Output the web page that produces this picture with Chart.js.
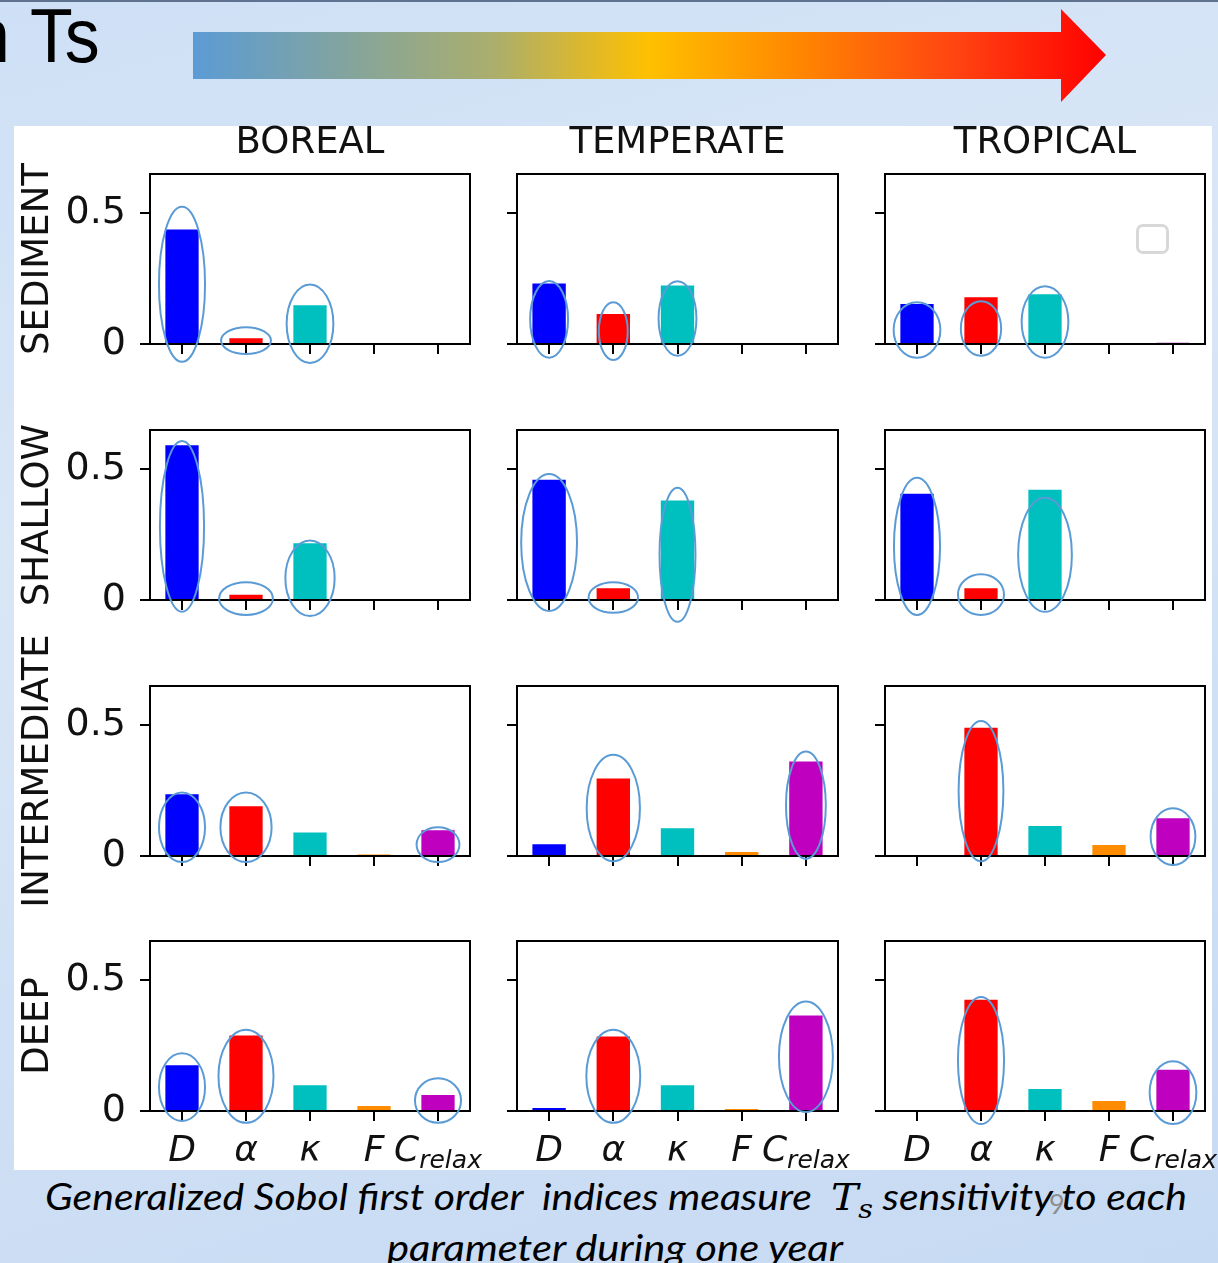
<!DOCTYPE html>
<html>
<head>
<meta charset="utf-8">
<script src="https://cdn.jsdelivr.net/npm/chart.js@4.4.0/dist/chart.umd.min.js"></script>
<style>
  html, body { margin: 0; padding: 0; }
  body {
    width: 1218px; height: 1263px; position: relative; overflow: hidden;
    background: linear-gradient(165deg, #cee0f6 0%, #d9e6f6 35%, #c6daf3 100%);
    font-family: 'DejaVu Sans', sans-serif;
  }
  #topline { position: absolute; left: 0; top: 0; width: 1218px; height: 2px; background: #5f7290; }
  #heading {
    position: absolute; left: -29px; top: -2px; font-family: 'Liberation Sans', sans-serif;
    font-size: 76px; line-height: 76px; color: #000; white-space: nowrap; word-spacing: 2px;
    transform: scaleX(0.92); transform-origin: left top;
  }
  #arrow { position: absolute; left: 0; top: 0; }
  #panel { position: absolute; left: 14px; top: 126px; width: 1198px; height: 1044px; background: #fff; }
  canvas { position: absolute; }
  .coltitle {
    position: absolute; font-size: 37px; line-height: 40px; color: #111;
    text-align: center; white-space: nowrap;
  }
  .rowlabel {
    position: absolute; width: 320px; height: 40px; font-size: 37px; line-height: 40px;
    color: #111; text-align: center; white-space: nowrap; transform: rotate(-90deg);
  }
  #legendbox {
    position: absolute; left: 1136px; top: 224px; width: 27px; height: 24px;
    border: 3px solid #d8d8d8; border-radius: 7px;
  }
  .caption {
    position: absolute; font-family: Lato, 'Open Sans', sans-serif; font-style: italic;
    font-size: 37px; line-height: 44px; color: #000; white-space: nowrap; transform-origin: left top;
  }
  .caption .T { font-family: 'DejaVu Serif', serif; font-style: italic; }
  .caption sub { font-size: 0.7em; vertical-align: -0.3em; line-height: 0; }
  #pagenum {
    position: absolute; left: 1049px; top: 1189px; font-family: Lato, sans-serif;
    font-size: 27px; line-height: 30px; color: #8f8f8f;
  }
</style>
</head>
<body>
<div id="topline"></div>
<div id="heading">n Ts</div>
<svg id="arrow" width="1218" height="120">
  <defs>
    <linearGradient id="heat" gradientUnits="userSpaceOnUse" x1="193" y1="0" x2="1106" y2="0">
      <stop offset="0" stop-color="#5b9bd5"/>
      <stop offset="0.18" stop-color="#86a59a"/>
      <stop offset="0.33" stop-color="#abae6c"/>
      <stop offset="0.5" stop-color="#ffc000"/>
      <stop offset="0.66" stop-color="#ff8800"/>
      <stop offset="0.83" stop-color="#ff4612"/>
      <stop offset="1" stop-color="#ff0000"/>
    </linearGradient>
  </defs>
  <polygon fill="url(#heat)" points="193,32 1061,32 1061,9 1106,55 1061,102 1061,79 193,79"/>
</svg>
<div id="panel"></div>
<div id="legendbox"></div>
<div class="caption" id="cap1">Generalized Sobol first order&nbsp; indices measure&nbsp; <span class="T">T<sub>s</sub></span> sensitivity to each</div>
<div class="caption" id="cap2">parameter during one year</div>
<div id="pagenum">9</div>

<script>
// categories and tick labels
const categories = ['D', 'α', 'κ', 'F', 'C'];
const subscripts = ['', '', '', '', 'relax'];
const climates = ['BOREAL', 'TEMPERATE', 'TROPICAL'];
const depths = ['SEDIMENT', 'SHALLOW', 'INTERMEDIATE', 'DEEP'];
const yTicks = [0, 0.5];
const yMax = 0.648;

// first order Sobol indices, order: D, alpha, kappa, F, C_relax
const sedimentBoreal = [0.436, 0.022, 0.148, 0, 0];
const sedimentTemperate = [0.231, 0.114, 0.223, 0, 0.003];
const sedimentTropical = [0.152, 0.178, 0.19, 0, 0.005];
const shallowBoreal = [0.59, 0.02, 0.216, 0, 0];
const shallowTemperate = [0.458, 0.045, 0.379, 0, 0];
const shallowTropical = [0.405, 0.045, 0.42, 0, 0.003];
const intermediateBoreal = [0.235, 0.19, 0.09, 0.006, 0.098];
const intermediateTemperate = [0.045, 0.295, 0.106, 0.015, 0.36];
const intermediateTropical = [0, 0.489, 0.114, 0.042, 0.144];
const deepBoreal = [0.174, 0.288, 0.098, 0.019, 0.061];
const deepTemperate = [0.011, 0.284, 0.098, 0.008, 0.364];
const deepTropical = [0, 0.424, 0.084, 0.038, 0.157];

// hand drawn rings: [category, low, high, width as share of a category]
const sedimentBorealRings = [[0, -0.068, 0.523, 0.72], [1, -0.038, 0.064, 0.78], [2, -0.072, 0.227, 0.73]];
const sedimentTemperateRings = [[0, -0.052, 0.24, 0.59], [1, -0.061, 0.159, 0.45], [2, -0.045, 0.239, 0.59]];
const sedimentTropicalRings = [[0, -0.052, 0.159, 0.73], [1, -0.045, 0.163, 0.63], [2, -0.052, 0.22, 0.73]];
const shallowBorealRings = [[0, -0.045, 0.606, 0.69], [1, -0.057, 0.068, 0.84], [2, -0.061, 0.227, 0.77]];
const shallowTemperateRings = [[0, -0.042, 0.48, 0.87], [1, -0.049, 0.068, 0.77], [2, -0.083, 0.428, 0.56]];
const shallowTropicalRings = [[0, -0.057, 0.466, 0.72], [1, -0.057, 0.098, 0.72], [2, -0.045, 0.39, 0.84]];
const intermediateBorealRings = [[0, -0.023, 0.242, 0.72], [1, -0.023, 0.242, 0.8], [4, -0.023, 0.11, 0.67]];
const intermediateTemperateRings = [[1, -0.02, 0.386, 0.83], [4, -0.011, 0.398, 0.62]];
const intermediateTropicalRings = [[1, -0.02, 0.515, 0.7], [4, -0.034, 0.182, 0.7]];
const deepBorealRings = [[0, -0.038, 0.22, 0.72], [1, -0.045, 0.31, 0.86], [4, -0.045, 0.125, 0.72]];
const deepTemperateRings = [[1, -0.045, 0.31, 0.84], [4, -0.004, 0.417, 0.84]];
const deepTropicalRings = [[1, -0.05, 0.435, 0.72], [4, -0.05, 0.19, 0.73]];

const values = [
  [sedimentBoreal, sedimentTemperate, sedimentTropical],
  [shallowBoreal, shallowTemperate, shallowTropical],
  [intermediateBoreal, intermediateTemperate, intermediateTropical],
  [deepBoreal, deepTemperate, deepTropical]
];
const rings = [
  [sedimentBorealRings, sedimentTemperateRings, sedimentTropicalRings],
  [shallowBorealRings, shallowTemperateRings, shallowTropicalRings],
  [intermediateBorealRings, intermediateTemperateRings, intermediateTropicalRings],
  [deepBorealRings, deepTemperateRings, deepTropicalRings]
];

const barColors = ['#0000ff', '#ff0000', '#00bfbf', '#ff8c00', '#bf00bf'];

// layout of the 4x3 grid of axes boxes
const colLeft = [150, 517, 885];
const colWidth = [320, 321, 320];
const rowTop = [174, 430, 686, 941];
const boxHeight = 170;
const M = { l: 110, t: 45, r: 20, b: 75 };

const panelPlugin = {
  id: 'panel',
  afterDatasetsDraw(chart) {
    const a = chart.chartArea, ctx = chart.ctx;
    ctx.save();
    ctx.strokeStyle = '#000';
    ctx.lineWidth = 2;
    ctx.strokeRect(a.left, a.top, a.right - a.left, a.bottom - a.top);
    ctx.restore();
  },
  afterDraw(chart, args, opts) {
    const ctx = chart.ctx, xs = chart.scales.x, ys = chart.scales.y;
    const catW = xs.width / categories.length;
    ctx.save();
    ctx.strokeStyle = '#5b9bd5';
    ctx.lineWidth = 2;
    (opts.rings || []).forEach(([cat, lo, hi, w]) => {
      const cx = xs.getPixelForValue(cat);
      const yTop = ys.getPixelForValue(hi), yBot = ys.getPixelForValue(lo);
      ctx.beginPath();
      ctx.ellipse(cx, (yTop + yBot) / 2, catW * w / 2, (yBot - yTop) / 2, 0, 0, Math.PI * 2);
      ctx.stroke();
    });
    if (opts.showX) {
      ctx.fillStyle = '#111';
      ctx.textBaseline = 'alphabetic';
      const base = chart.chartArea.bottom + 50;
      categories.forEach((lab, i) => {
        ctx.font = 'italic 36px "DejaVu Sans"';
        const wMain = ctx.measureText(lab).width;
        ctx.font = 'italic 25px "DejaVu Sans"';
        const wSub = subscripts[i] ? ctx.measureText(subscripts[i]).width : 0;
        const x0 = xs.getPixelForValue(i) - (wMain + wSub) / 2;
        ctx.font = 'italic 36px "DejaVu Sans"';
        ctx.fillText(lab, x0, base);
        if (subscripts[i]) {
          ctx.font = 'italic 25px "DejaVu Sans"';
          ctx.fillText(subscripts[i], x0 + wMain, base + 7);
        }
      });
    }
    ctx.restore();
  }
};

function makePanel(r, c) {
  const canvas = document.createElement('canvas');
  canvas.width = colWidth[c] + M.l + M.r;
  canvas.height = boxHeight + M.t + M.b;
  canvas.style.left = (colLeft[c] - M.l) + 'px';
  canvas.style.top = (rowTop[r] - M.t) + 'px';
  document.body.appendChild(canvas);

  const axisGrid = { offset: false, drawOnChartArea: false, drawTicks: true, tickLength: 10, color: '#000', lineWidth: 2 };
  new Chart(canvas, {
    type: 'bar',
    data: {
      labels: categories,
      datasets: [{
        data: values[r][c],
        backgroundColor: barColors,
        barPercentage: 0.52,
        categoryPercentage: 1
      }]
    },
    options: {
      responsive: false,
      animation: false,
      layout: { padding: { top: M.t, right: M.r, left: 0, bottom: 0 } },
      plugins: {
        legend: { display: false },
        tooltip: { enabled: false },
        panel: { rings: rings[r][c], showX: r === depths.length - 1 }
      },
      scales: {
        x: {
          grid: axisGrid,
          border: { display: true, color: '#000', width: 2 },
          ticks: { display: false },
          afterFit: s => { s.height = M.b; }
        },
        y: {
          min: 0,
          max: yMax,
          afterBuildTicks: s => { s.ticks = yTicks.map(v => ({ value: v })); },
          grid: axisGrid,
          border: { display: true, color: '#000', width: 2 },
          ticks: {
            display: c === 0,
            color: '#111',
            padding: 14,
            font: { family: 'DejaVu Sans', size: 38 },
            callback: v => String(v)
          },
          afterFit: s => { s.width = M.l; }
        }
      }
    },
    plugins: [panelPlugin]
  });
}

for (let r = 0; r < depths.length; r++) {
  for (let c = 0; c < climates.length; c++) makePanel(r, c);
}

// column titles and row labels
climates.forEach((name, c) => {
  const d = document.createElement('div');
  d.className = 'coltitle';
  d.textContent = name;
  d.style.left = colLeft[c] + 'px';
  d.style.width = colWidth[c] + 'px';
  d.style.top = '121px';
  document.body.appendChild(d);
});
depths.forEach((name, r) => {
  const d = document.createElement('div');
  d.className = 'rowlabel';
  d.textContent = name;
  d.style.left = (36 - 160) + 'px';
  d.style.top = (rowTop[r] + boxHeight / 2 - 20) + 'px';
  document.body.appendChild(d);
});

// caption lines, fitted to the width they take on the slide
function fitCaption(id, left, top, width) {
  const el = document.getElementById(id);
  el.style.left = left + 'px';
  el.style.top = top + 'px';
  const w = el.getBoundingClientRect().width;
  el.style.transform = 'scaleX(' + (width / w) + ')';
}
fitCaption('cap1', 45, 1174, 1142);
fitCaption('cap2', 387, 1225, 456);
</script>
</body>
</html>
